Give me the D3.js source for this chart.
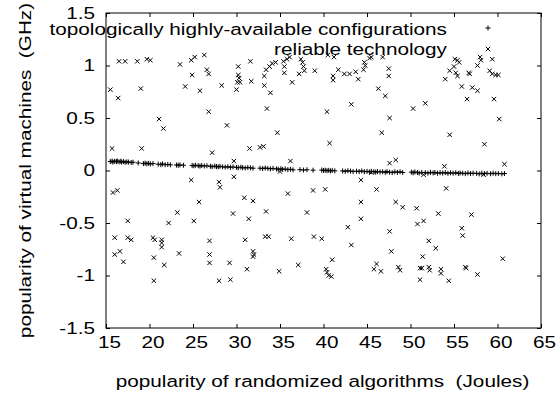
<!DOCTYPE html>
<meta charset="utf-8">
<script src="https://d3js.org/d3.v7.min.js"></script>
<style>
  body { margin: 0; background: #fff; }
  text { font-family: "Liberation Sans", Arial, Helvetica, sans-serif; font-size: 17px; fill: #000; }
</style>
<body>
<div id="viz"></div>
<script>

// tick values
const xTicks = [15, 20, 25, 30, 35, 40, 45, 50, 55, 60, 65];
const yTicks = [-1.5, -1, -0.5, 0, 0.5, 1, 1.5];

// series names
const seriesNames = ["topologically highly-available configurations", "reliable technology"];

// "+" series : [x, y]
const plusPts = [
  [15.5,0.085],[15.7,0.09],[15.8,0.08],[16.0,0.088],[16.2,0.085],[16.3,0.09],[16.5,0.082],[16.7,0.088],
  [16.8,0.08],[17.0,0.085],[17.2,0.078],[17.4,0.082],[17.6,0.08],[17.9,0.076],[18.1,0.079],[18.7,0.072],
  [19.3,0.066],[19.5,0.07],[19.7,0.064],[19.9,0.068],[20.1,0.062],[20.4,0.066],
  [21.0,0.06],[21.3,0.056],[21.5,0.062],[21.8,0.055],[22.1,0.058],[22.4,0.054],
  [23.1,0.052],[23.3,0.05],[23.5,0.053],[23.9,0.05],
  [24.9,0.048],[25.1,0.044],[25.3,0.05],[25.6,0.046],[25.8,0.042],[26.0,0.047],[26.3,0.043],[26.6,0.045],
  [27.0,0.04],[27.2,0.036],[27.5,0.042],[27.7,0.038],[27.9,0.034],[28.1,0.04],
  [28.4,0.035],[28.7,0.032],[29.0,0.036],[29.3,0.03],[29.6,0.034],
  [30.0,0.03],[30.2,0.026],[30.5,0.032],[30.7,0.027],[31.0,0.024],[31.3,0.029],[31.6,0.025],[31.9,0.022],
  [32.7,0.022],[33.0,0.018],[33.3,0.024],[33.6,0.02],[33.9,0.016],[34.2,0.02],
  [34.6,0.015],[34.8,0.012],[35.1,0.017],[35.3,0.01],[35.6,0.014],[35.9,0.008],[36.2,0.012],[36.5,0.006],
  [37.3,0.008],[37.7,0.004],[38.1,0.007],[38.8,0.003],
  [39.8,0.004],[40.0,0.0],[40.2,0.003],[40.4,-0.002],[40.6,0.002],[40.8,-0.004],[41.0,0.001],[41.3,-0.003],
  [42.2,-0.004],[42.5,-0.008],[42.8,-0.002],[43.1,-0.006],[43.4,-0.01],
  [43.8,-0.006],[44.1,-0.01],[44.4,-0.004],[44.7,-0.012],[45.0,-0.008],
  [45.3,-0.014],[45.5,-0.008],[45.8,-0.012],[46.0,-0.016],[46.2,-0.01],[46.5,-0.014],
  [46.8,-0.012],[47.1,-0.018],[47.3,-0.01],[47.6,-0.016],[47.9,-0.02],[48.2,-0.013],[48.5,-0.017],[48.8,-0.012],[49.1,-0.019],
  [50.1,-0.016],[50.3,-0.022],[50.5,-0.014],[50.8,-0.02],[51.0,-0.024],[51.3,-0.018],
  [51.7,-0.02],[52.0,-0.025],[52.3,-0.018],[52.6,-0.023],[52.8,-0.019],[53.1,-0.026],[53.4,-0.021],
  [53.7,-0.024],[54.0,-0.02],[54.3,-0.027],[54.6,-0.022],[54.9,-0.026],[55.2,-0.021],[55.5,-0.028],[55.7,-0.024],
  [56.0,-0.026],[56.3,-0.03],[56.6,-0.024],[56.9,-0.029],[57.2,-0.025],
  [57.6,-0.028],[57.9,-0.032],[58.2,-0.026],[58.5,-0.03],[58.8,-0.027],
  [59.2,-0.031],[59.5,-0.026],[59.8,-0.03],[60.1,-0.028],[60.5,-0.032],[60.8,-0.029]
];

// "x" series : [x, y]
const crossPts = [
  [16.5,1.04],[17.2,1.04],[18.6,1.04],[19.7,1.06],[20.1,1.05],[23.5,1.01],[24.8,1.05],[25.2,1.08],[26.3,1.10],
  [31.6,1.04],[26.6,0.96],[26.8,0.92],[24.9,0.91],[30.2,0.99],[30.2,0.91],[30.3,0.88],[30.1,0.84],[30.4,0.84],
  [30.0,0.77],[31.7,0.85],[15.5,0.77],[16.4,0.69],[19.0,0.78],[24.1,0.80],[25.8,0.76],[28.3,0.81],[26.8,0.56],
  [21.1,0.49],[21.6,0.40],[28.9,0.43],[15.7,0.21],[19.1,0.21],[27.2,0.17],[29.7,0.09],[31.5,0.21],
  [33.4,0.96],[33.8,0.99],[34.1,1.02],[34.5,1.03],[33.2,0.90],[35.4,1.04],[35.5,0.99],[35.8,1.06],[36.1,1.08],
  [35.5,0.93],[36.4,0.84],[37.4,1.06],[37.6,1.03],[37.7,0.99],[37.2,0.92],[37.8,0.95],[39.0,0.95],[33.2,0.81],
  [33.9,0.74],[33.5,0.59],[34.7,0.36],[32.7,0.22],[33.1,0.23],[36.2,0.09],[40.5,1.10],[41.2,1.08],[41.7,0.96],
  [41.1,0.90],[41.1,0.86],[42.4,0.92],[43.0,0.92],[43.7,0.94],[44.0,0.87],[44.6,0.96],[44.8,1.00],[44.7,1.03],
  [45.3,1.07],[45.5,1.08],[46.8,1.08],[47.5,0.97],[47.5,0.90],[46.3,0.78],[47.1,0.71],[43.2,0.63],[40.4,0.56],
  [40.7,0.26],[47.6,0.50],[46.7,0.36],[47.6,0.07],[48.3,0.10],
  [50.3,0.59],[51.7,0.64],[54.0,0.87],[54.5,0.95],[55.0,0.99],[55.1,1.06],[55.4,1.05],[55.6,1.03],[55.2,0.93],
  [55.4,0.90],[55.9,0.80],[56.5,0.68],[56.7,0.93],[56.8,0.92],[57.1,0.79],[57.7,0.76],[57.7,1.00],[58.0,1.08],
  [58.1,1.05],[59.4,1.06],[59.1,0.95],[59.4,0.92],[59.8,0.91],[60.1,0.91],[59.6,0.68],[60.2,0.49],[54.5,0.34],
  [58.5,0.25],[53.9,0.04],[60.8,0.06],
  [15.8,-0.21],[16.3,-0.19],[24.8,-0.09],[28.0,-0.11],[28.1,-0.16],[29.7,-0.06],[25.7,-0.30],[23.2,-0.40],
  [30.9,-0.26],[31.9,-0.29],[29.6,-0.41],[31.4,-0.46],[17.5,-0.48],[22.2,-0.50],[25.1,-0.48],[16.0,-0.64],
  [17.5,-0.64],[17.9,-0.66],[20.4,-0.64],[20.6,-0.66],[21.4,-0.66],[21.4,-0.69],[21.4,-0.73],[26.9,-0.67],[31.0,-0.66],
  [16.0,-0.80],[16.6,-0.77],[17.0,-0.87],[20.5,-0.83],[21.7,-0.90],[23.4,-0.79],[26.9,-0.80],[26.9,-0.88],
  [29.2,-0.88],[31.2,-0.94],[31.9,-0.77],[32.0,-0.80],[31.9,-0.82],[20.5,-1.05],[28.0,-1.05],[29.3,-1.04],
  [44.3,-0.09],[46.1,-0.18],[35.9,-0.22],[38.8,-0.19],[40.2,-0.18],[44.3,-0.30],[48.3,-0.30],[49.1,-0.35],
  [33.4,-0.39],[38.1,-0.40],[44.3,-0.46],[42.8,-0.54],[47.6,-0.58],[33.3,-0.63],[33.7,-0.63],[36.3,-0.65],
  [38.9,-0.63],[39.8,-0.65],[43.2,-0.71],[47.8,-0.77],[41.0,-0.85],[37.1,-0.90],[34.9,-0.96],[40.3,-0.94],
  [40.4,-0.97],[40.6,-1.00],[40.9,-1.01],[46.1,-0.89],[45.8,-0.94],[46.6,-0.96],[48.6,-0.92],[48.8,-0.95],
  [35.0,-0.01],[45.5,-0.02],
  [54.1,-0.17],[50.7,-0.36],[53.2,-0.41],[57.0,-0.42],[50.8,-0.51],[51.5,-0.48],[55.9,-0.55],[56.0,-0.62],
  [52.1,-0.67],[52.9,-0.74],[51.4,-0.82],[60.6,-0.84],[51.1,-0.93],[51.3,-0.93],[52.1,-0.92],[52.2,-0.95],
  [53.5,-0.94],[53.5,-0.98],[56.3,-0.92],[56.4,-0.93],[57.7,-0.99],[51.1,-1.04],[54.4,-1.05],[58.4,-0.04],[51.5,-0.04]
];

const W = 558, H = 395;
const margin = {top: 13, right: 17, bottom: 67, left: 106},
    width = W - margin.left - margin.right,
    height = H - margin.top - margin.bottom;

// the original font is drawn wider than Arial: stretch text horizontally
const sx = 1.22;

const svg = d3.select("#viz")
  .append("svg")
    .attr("width", W)
    .attr("height", H)
  .append("g")
    .attr("transform", `translate(${margin.left}, ${margin.top})`);

const x = d3.scaleLinear().domain([15, 65]).range([0, width]);
const y = d3.scaleLinear().domain([-1.5, 1.5]).range([height, 0]);

const fmt = d => String(d);

// bottom / left axes with inward ticks
const xAxis = svg.append("g")
  .attr("transform", `translate(0, ${height})`)
  .call(d3.axisBottom(x).tickValues(xTicks).tickSizeInner(-4).tickSizeOuter(0).tickPadding(8).tickFormat(fmt));
xAxis.selectAll("text").attr("dx", 3 / sx);

const yAxis = svg.append("g")
  .call(d3.axisLeft(y).tickValues(yTicks).tickSizeInner(-4).tickSizeOuter(0).tickPadding(11 / sx).tickFormat(fmt));

// mirrored ticks
svg.append("g")
  .call(d3.axisTop(x).tickValues(xTicks).tickSizeInner(-4).tickSizeOuter(0).tickFormat(""));
svg.append("g")
  .attr("transform", `translate(${width}, 0)`)
  .call(d3.axisRight(y).tickValues(yTicks).tickSizeInner(-4).tickSizeOuter(0).tickFormat(""));

svg.selectAll(".domain").remove();
svg.selectAll(".tick line").attr("stroke", "#000");
svg.selectAll(".tick text")
  .attr("transform", `scale(${sx},1)`)
  .attr("fill", "#000")
  .style("font-size", "17px")
  .style("font-family", "'Liberation Sans', Arial, sans-serif");

// frame
svg.append("rect")
  .attr("x", 0).attr("y", 0)
  .attr("width", width).attr("height", height)
  .attr("fill", "none").attr("stroke", "#000").attr("stroke-width", 1);

const plusPath = "M-2.5,0H2.5M0,-2.5V2.5";
const crossPath = "M-2.2,-2.2L2.2,2.2M-2.2,2.2L2.2,-2.2";

svg.append("g").selectAll("path")
  .data(crossPts)
  .join("path")
    .attr("transform", d => `translate(${x(d[0])},${y(d[1])})`)
    .attr("d", crossPath)
    .attr("stroke", "#000")
    .attr("fill", "none");

svg.append("g").selectAll("path")
  .data(plusPts)
  .join("path")
    .attr("transform", d => `translate(${x(d[0])},${y(d[1])})`)
    .attr("d", plusPath)
    .attr("stroke", "#000")
    .attr("fill", "none");

// legend (top right, inside plot)
const legend = svg.append("g");
[plusPath, crossPath].forEach(function(p, i) {
  legend.append("text")
    .attr("transform", `translate(341, ${21.5 + i * 20.5}) scale(${sx},1)`)
    .attr("text-anchor", "end")
    .text(seriesNames[i]);
  legend.append("path")
    .attr("transform", `translate(382, ${15 + i * 21})`)
    .attr("d", p)
    .attr("stroke", "#000")
    .attr("fill", "none");
});

// axis labels
svg.append("text")
  .attr("text-anchor", "middle")
  .attr("transform", `translate(${width / 2 - 1}, ${height + 59}) scale(${sx},1)`)
  .style("white-space", "pre")
  .text("popularity of randomized algorithms  (Joules)");

svg.append("text")
  .attr("text-anchor", "middle")
  .attr("transform", `translate(-75, ${height / 2}) rotate(-90) scale(${sx},1)`)
  .style("white-space", "pre")
  .text("popularity of virtual machines  (GHz)");

</script>
</body>
